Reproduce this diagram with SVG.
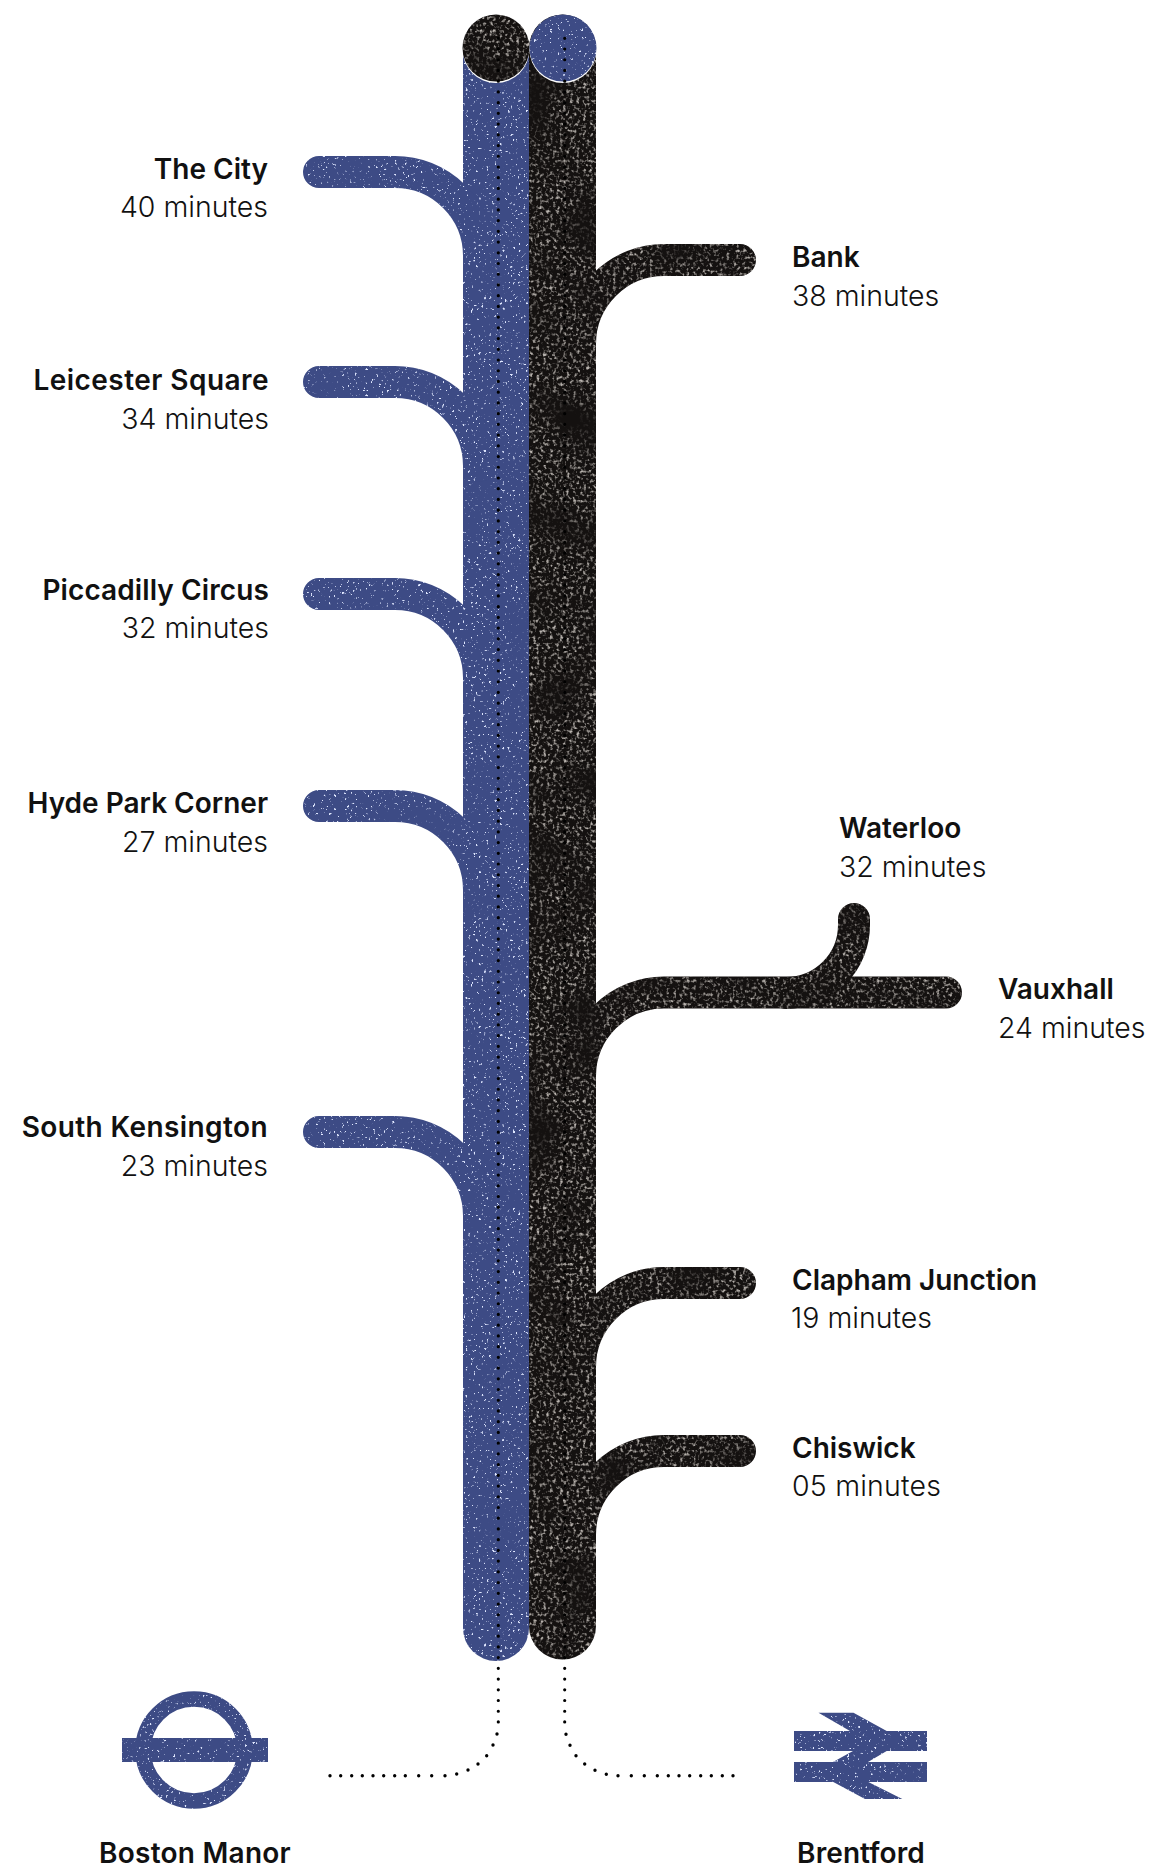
<svg xmlns="http://www.w3.org/2000/svg" width="1151" height="1870" viewBox="0 0 1151 1870">
<style>
text{font-family:"Inter","Liberation Sans",sans-serif;fill:#111}
.n{font-weight:600;font-size:28px}
.m{font-weight:300;font-size:28.5px}
.r{text-anchor:end}
.bl{fill:none;stroke:#3d4b85;stroke-width:32;stroke-linecap:round;filter:url(#gb)}
.bk{fill:none;stroke:#141110;stroke-width:32;stroke-linecap:round;filter:url(#gk)}
.tb{stroke-width:66}
.tk{stroke-width:67}
.dots{fill:none;stroke:#000;stroke-width:3.2;stroke-linecap:round;stroke-dasharray:0 10.724}
.dot{fill:none;stroke:#000;stroke-width:3.4;stroke-linecap:round}
</style>
<defs>
<filter id="gb" filterUnits="userSpaceOnUse" x="0" y="0" width="1151" height="1870" color-interpolation-filters="sRGB">
<feTurbulence type="fractalNoise" baseFrequency="0.38" numOctaves="2" seed="7"/>
<feColorMatrix type="matrix" values="0 0 0 0 .88 0 0 0 0 .91 0 0 0 0 1 11 0 0 0 -7.3" result="f"/>
<feTurbulence type="fractalNoise" baseFrequency="0.02" numOctaves="2" seed="11"/>
<feColorMatrix type="matrix" values="0 0 0 0 1 0 0 0 0 1 0 0 0 0 1 2.5 0 0 0 -.25" result="c"/>
<feComposite in="f" in2="c" operator="in"/>
<feGaussianBlur stdDeviation=".5"/>
<feComposite in2="SourceGraphic" operator="in" result="g"/>
<feMerge><feMergeNode in="SourceGraphic"/><feMergeNode in="g"/></feMerge>
</filter>
<filter id="gk" filterUnits="userSpaceOnUse" x="0" y="0" width="1151" height="1870" color-interpolation-filters="sRGB">
<feTurbulence type="fractalNoise" baseFrequency="0.3" numOctaves="2" seed="3"/>
<feColorMatrix type="matrix" values="0 0 0 0 .72 0 0 0 0 .7 0 0 0 0 .68 3.4 0 0 0 -1.7" result="f"/>
<feTurbulence type="fractalNoise" baseFrequency="0.018" numOctaves="2" seed="5"/>
<feColorMatrix type="matrix" values="0 0 0 0 1 0 0 0 0 1 0 0 0 0 1 2.5 0 0 0 -.4" result="c"/>
<feComposite in="f" in2="c" operator="in"/>
<feGaussianBlur stdDeviation=".7"/>
<feComposite in2="SourceGraphic" operator="in" result="g"/>
<feMerge><feMergeNode in="SourceGraphic"/><feMergeNode in="g"/></feMerge>
</filter>
</defs>
<g id="line-blue"><path class="bl tb" d="M496 48V1628"/></g>
<g id="the-city"><path class="bl" d="M319 172H395A84 84 0 0 1 479 256"/><text class="n r" x="268" y="179">The City</text><text class="m r" x="268" y="217">40 minutes</text></g>
<g id="leicester-square"><path class="bl" d="M319 382H395A84 84 0 0 1 479 466"/><text class="n r" style="letter-spacing:.45px" x="269" y="390">Leicester Square</text><text class="m r" x="269" y="429">34 minutes</text></g>
<g id="piccadilly-circus"><path class="bl" d="M319 594H395A84 84 0 0 1 479 678"/><text class="n r" style="letter-spacing:.1px" x="269" y="600">Piccadilly Circus</text><text class="m r" x="269" y="638">32 minutes</text></g>
<g id="hyde-park-corner"><path class="bl" d="M319 806H395A84 84 0 0 1 479 890"/><text class="n r" x="268" y="813">Hyde Park Corner</text><text class="m r" x="268" y="852">27 minutes</text></g>
<g id="south-kensington"><path class="bl" d="M319 1132H395A84 84 0 0 1 479 1216"/><text class="n r" style="letter-spacing:.4px" x="268" y="1137">South Kensington</text><text class="m r" x="268" y="1176">23 minutes</text></g>
<g id="line-black"><path class="bk tk" d="M562.5 48V1626"/></g>
<g id="bank"><path class="bk" d="M740 260H664A84 84 0 0 0 580 344"/><text class="n" x="792" y="267">Bank</text><text class="m" x="792" y="306">38 minutes</text></g>
<g id="vauxhall"><path class="bk" d="M946 992.5H664A84 84 0 0 0 580 1076"/><text class="n" x="998" y="999">Vauxhall</text><text class="m" x="998" y="1038">24 minutes</text></g>
<g id="waterloo"><path class="bk" d="M854 919V925A68 68 0 0 1 786 993"/><text class="n" x="839" y="838">Waterloo</text><text class="m" x="839" y="877">32 minutes</text></g>
<g id="clapham-junction"><path class="bk" d="M740 1283H664A84 84 0 0 0 580 1367"/><text class="n" x="792" y="1290">Clapham Junction</text><text class="m" x="791" y="1328">19 minutes</text></g>
<g id="chiswick"><path class="bk" d="M740 1451H664A84 84 0 0 0 580 1535"/><text class="n" x="792" y="1458">Chiswick</text><text class="m" style="letter-spacing:.2px" x="792" y="1496">05 minutes</text></g>
<g id="terminal-black"><circle cx="496" cy="49.5" r="33.5" fill="#fff"/><circle class="bk" style="stroke:none;fill:#141110" cx="496" cy="48" r="33.5"/></g>
<g id="terminal-blue"><circle cx="563" cy="49.5" r="33.5" fill="#fff"/><circle class="bl" style="stroke:none;fill:#3d4b85" cx="563" cy="48" r="33.5"/></g>
<g id="connectors">
<path class="dots" d="M498.3 38.3V1722.5"/>
<path class="dots" d="M564.7 38.3V1722.5"/>
<path class="dot" d="M497 1734h0M493 1745h0M486.7 1755.7h0M478 1764h0M468 1770h0M456.7 1774h0M445 1775.7h0M431.7 1775.7h0M418.7 1775.7h0M405.3 1775.7h0M394.7 1775.7h0M383.7 1775.7h0M373 1775.7h0M362.3 1775.7h0M351.7 1775.7h0M340.7 1775.7h0M330 1775.7h0"/>
<path class="dot" d="M566 1734.3h0M570 1745.3h0M576 1755.7h0M584.7 1764h0M595 1770.3h0M606.3 1774.3h0M618 1775.7h0M631.3 1775.7h0M644.3 1775.7h0M657.3 1775.7h0M668.3 1775.7h0M679 1775.7h0M689.7 1775.7h0M700.7 1775.7h0M711.3 1775.7h0M722.3 1775.7h0M733 1775.7h0"/>
</g>
<g id="boston-manor"><circle class="bl" style="stroke-width:15.5;stroke-linecap:butt" cx="194" cy="1750" r="51"/><rect class="bl" style="stroke:none;fill:#3d4b85" x="122" y="1738" width="146" height="24"/><text class="n" style="letter-spacing:.25px" text-anchor="middle" x="195" y="1863">Boston Manor</text></g>
<g id="brentford"><path class="bl" style="stroke:none;fill:#3d4b85" d="M818.5 1712.7H853.5L886.7 1731H927V1751H886.7L868 1762H927V1782H868.3L902.3 1799H865L833.3 1782H794V1762H833L853 1751H794V1731H850Z"/><text class="n" style="letter-spacing:.1px" text-anchor="middle" x="861" y="1863">Brentford</text></g>
</svg>
